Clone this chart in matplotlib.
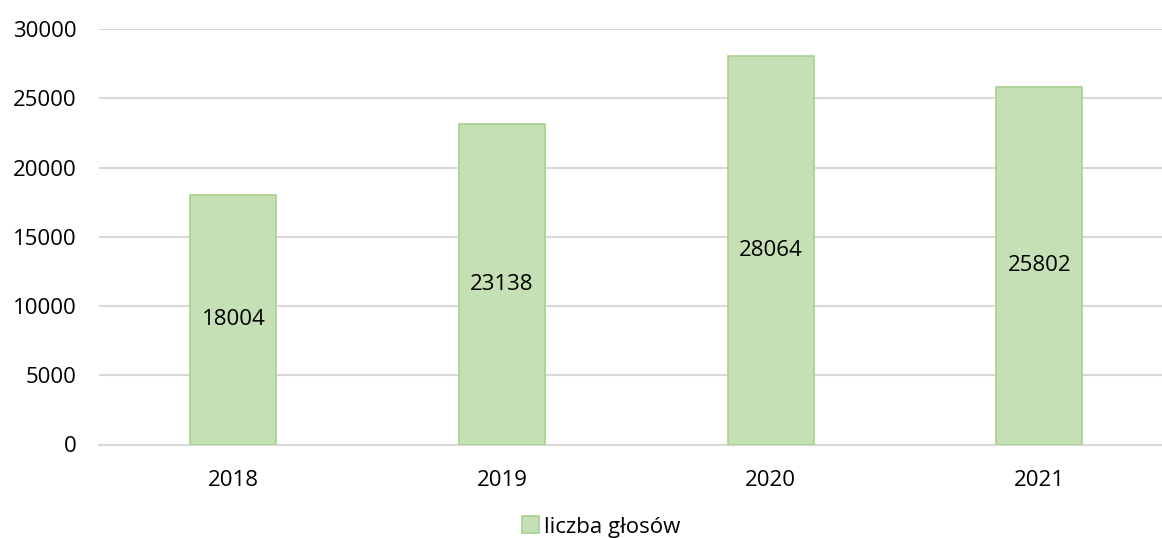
import matplotlib.pyplot as plt

# dane
years = ["2018", "2019", "2020", "2021"]
votes = [18004, 23138, 28064, 25802]
yticks = [0, 5000, 10000, 15000, 20000, 25000, 30000]
series_name = "liczba głosów"

plt.rcParams['font.family'] = ['Open Sans', 'DejaVu Sans']

W, H = 1162, 538
fig = plt.figure(figsize=(W / 100, H / 100), dpi=100)
ax = fig.add_axes([99 / W, 1 - 444.5 / H, (W - 99) / W, (444.5 - 29) / H])

x = range(len(years))
bars = ax.bar(x, votes, width=0.32, color='#C5E0B4', edgecolor='#A9D18E',
              linewidth=1.2, label=series_name, zorder=3)
for b, v in zip(bars, votes):
    ax.text(b.get_x() + b.get_width() / 2, v / 2, str(v), ha='center', va='center',
            fontsize=16, color='#000000', zorder=4)

ax.set_xlim(-0.5, -0.5 + (W - 99) / 268.7)
ax.set_ylim(0, 30000)
ax.set_yticks(yticks)
ax.set_yticklabels([str(t) for t in yticks])
ax.set_xticks(list(x))
ax.set_xticklabels(years)
ax.tick_params(axis='y', length=0, pad=16, labelsize=16, labelcolor='#000000')
ax.tick_params(axis='x', length=0, pad=18, labelsize=16, labelcolor='#000000')
ax.grid(axis='y', color='#D9D9D9', linewidth=1.5, zorder=0)
for s in ['top', 'right', 'left']:
    ax.spines[s].set_visible(False)
ax.spines['bottom'].set_color('#D9D9D9')
ax.spines['bottom'].set_linewidth(1.5)

fig.legend(loc='center', bbox_to_anchor=(601 / W, 1 - 527 / H), frameon=False,
           fontsize=16, handlelength=0.8, handleheight=0.8, handletextpad=0.2,
           labelcolor='#000000')

fig.savefig("out.png", dpi=100)
